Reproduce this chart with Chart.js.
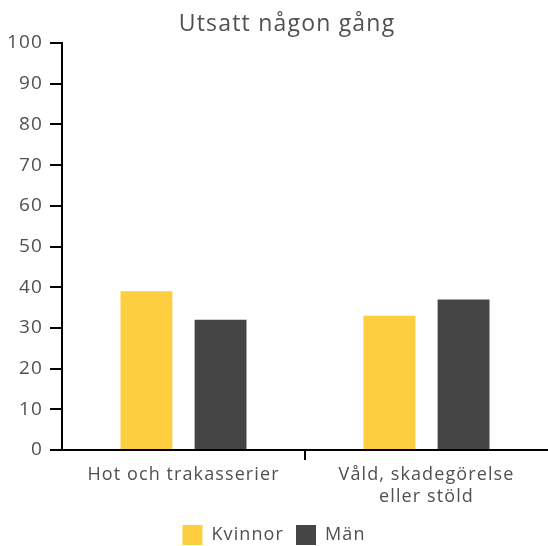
<!DOCTYPE html>
<html>
<head>
<meta charset="utf-8">
<script src="https://cdn.jsdelivr.net/npm/chart.js@4/dist/chart.umd.min.js"></script>
<style>
  html, body { margin: 0; padding: 0; background: #fff; }
  #wrap { width: 548px; height: 546px; }
</style>
</head>
<body>
<div id="wrap"><canvas id="chart"></canvas></div>
<script>
// Data
const chartTitle = 'Utsatt någon gång';
const categories = [['Hot och trakasserier'], ['Våld, skadegörelse', 'eller stöld']];
const seriesNames = ['Kvinnor', 'Män'];
const kvinnor = [39, 33];
const man = [32, 37];
const yTicks = [0, 10, 20, 30, 40, 50, 60, 70, 80, 90, 100];

const FONT = '"Open Sans", "Noto Sans", sans-serif';
const TEXT = '#505050';
const SPACING = '1.1px';

// the original font is wider than anything installed, so space the letters a little
const spacingPlugin = {
    id: 'spacing',
    beforeUpdate(chart) { chart.ctx.letterSpacing = SPACING; },
    beforeLayout(chart) { chart.ctx.letterSpacing = SPACING; },
    beforeDraw(chart) { chart.ctx.letterSpacing = SPACING; }
};

// Title drawn by hand so it can sit a bit right of the canvas centre like the original
const titlePlugin = {
    id: 'titleText',
    afterDraw(chart) {
        const ctx = chart.ctx;
        ctx.save();
        ctx.font = '23px ' + FONT;
        ctx.letterSpacing = '1.2px';
        ctx.fillStyle = TEXT;
        ctx.textAlign = 'center';
        ctx.textBaseline = 'middle';
        ctx.fillText(chartTitle, 287, 24);
        ctx.restore();
    }
};

new Chart(document.getElementById('chart').getContext('2d'), {
    type: 'bar',
    data: {
        labels: categories,
        datasets: [{
            label: seriesNames[0],
            data: kvinnor,
            backgroundColor: '#FDCE3F',
            categoryPercentage: 0.61,
            barPercentage: 0.70
        }, {
            label: seriesNames[1],
            data: man,
            backgroundColor: '#454546',
            categoryPercentage: 0.61,
            barPercentage: 0.70
        }]
    },
    options: {
        responsive: true,
        maintainAspectRatio: false,
        animation: false,
        layout: { padding: { top: 43, right: 0, left: 0, bottom: -9 } },
        plugins: {
            title: { display: false },
            tooltip: { enabled: false },
            legend: {
                position: 'bottom',
                labels: {
                    boxWidth: 20,
                    boxHeight: 20,
                    padding: 12,
                    color: TEXT,
                    font: { family: FONT, size: 18 }
                }
            }
        },
        scales: {
            x: {
                afterFit: scale => { scale.height += 1; },
                border: { color: '#000', width: 2 },
                grid: {
                    drawOnChartArea: false,
                    drawTicks: true,
                    tickLength: 10,
                    lineWidth: 2,
                    color: ctx => (ctx.index === 1 ? '#000' : 'rgba(0,0,0,0)')
                },
                ticks: {
                    color: TEXT,
                    padding: 4,
                    maxRotation: 0,
                    font: { family: FONT, size: 18, lineHeight: 1.22 }
                }
            },
            y: {
                min: 0,
                max: 100,
                afterBuildTicks: scale => { scale.ticks = yTicks.map(v => ({ value: v })); },
                afterFit: scale => { scale.width = 62; },
                border: { color: '#000', width: 2 },
                grid: {
                    drawOnChartArea: false,
                    drawTicks: true,
                    tickLength: 12,
                    lineWidth: 2,
                    color: '#000'
                },
                ticks: {
                    color: TEXT,
                    padding: 7,
                    font: { family: FONT, size: 19 }
                }
            }
        }
    },
    plugins: [spacingPlugin, titlePlugin]
});
</script>
</body>
</html>
